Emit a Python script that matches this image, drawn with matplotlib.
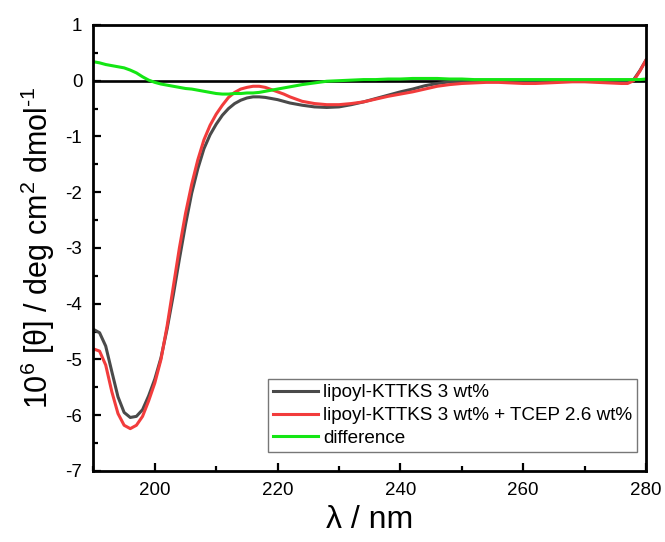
import matplotlib
matplotlib.use("Agg")
import matplotlib.pyplot as plt
from matplotlib.ticker import MultipleLocator

plt.rcParams['font.family'] = ['Liberation Sans', 'DejaVu Sans']
plt.rcParams['mathtext.fontset'] = 'custom'
plt.rcParams['mathtext.rm'] = 'Liberation Sans'
plt.rcParams['mathtext.it'] = 'Liberation Sans:italic'
plt.rcParams['mathtext.bf'] = 'Liberation Sans:bold'
plt.rcParams['axes.unicode_minus'] = False

wavelength = [190, 191, 192, 193, 194, 195, 196, 197, 198, 199,
              200, 201, 202, 203, 204, 205, 206, 207, 208, 209,
              210, 211, 212, 213, 214, 215, 216, 217, 218, 219,
              220, 221, 222, 223, 224, 226, 228, 230, 232, 234,
              236, 238, 240, 242, 244, 246, 248, 250, 252, 254,
              256, 258, 260, 262, 264, 266, 268, 270, 272, 274,
              276, 277, 278, 279, 280]

lipoyl = [-4.46, -4.52, -4.76, -5.22, -5.67, -5.95, -6.04, -6.02, -5.90, -5.65,
          -5.35, -4.97, -4.45, -3.85, -3.20, -2.58, -2.02, -1.58, -1.22, -0.97,
          -0.78, -0.62, -0.50, -0.41, -0.35, -0.31, -0.29, -0.29, -0.30, -0.32,
          -0.34, -0.37, -0.40, -0.42, -0.44, -0.47, -0.48, -0.47, -0.43, -0.38,
          -0.32, -0.26, -0.20, -0.15, -0.09, -0.05, -0.02, -0.01, 0.00, 0.00,
          0.00, 0.00, -0.01, -0.01, 0.00, 0.00, 0.00, 0.00, 0.00, -0.01,
          0.00, -0.01, 0.02, 0.18, 0.37]

lipoyl_tcep = [-4.81, -4.85, -5.10, -5.58, -5.97, -6.18, -6.24, -6.18, -6.02, -5.74,
               -5.42, -5.00, -4.40, -3.70, -3.00, -2.38, -1.86, -1.42, -1.06, -0.80,
               -0.60, -0.44, -0.30, -0.21, -0.15, -0.12, -0.10, -0.10, -0.12, -0.16,
               -0.20, -0.24, -0.29, -0.33, -0.37, -0.41, -0.43, -0.43, -0.41, -0.38,
               -0.33, -0.28, -0.24, -0.20, -0.15, -0.10, -0.07, -0.05, -0.04, -0.03,
               -0.03, -0.04, -0.05, -0.05, -0.04, -0.03, -0.02, -0.02, -0.03, -0.04,
               -0.05, -0.05, 0.00, 0.17, 0.37]

difference = [0.34, 0.32, 0.29, 0.27, 0.25, 0.23, 0.19, 0.14, 0.07, 0.01,
              -0.03, -0.06, -0.08, -0.10, -0.12, -0.14, -0.15, -0.17, -0.19, -0.21,
              -0.23, -0.24, -0.24, -0.23, -0.23, -0.22, -0.22, -0.21, -0.19, -0.17,
              -0.15, -0.13, -0.11, -0.09, -0.07, -0.04, -0.01, 0.00, 0.01, 0.02,
              0.02, 0.03, 0.03, 0.04, 0.04, 0.04, 0.03, 0.03, 0.02, 0.02,
              0.02, 0.02, 0.02, 0.02, 0.02, 0.02, 0.02, 0.02, 0.02, 0.02,
              0.02, 0.02, 0.02, 0.02, 0.03]

labels = ["lipoyl-KTTKS 3 wt%", "lipoyl-KTTKS 3 wt% + TCEP 2.6 wt%", "difference"]
colors = ["#4a4a4a", "#f23c3c", "#14e614"]

fig = plt.figure(figsize=(6.65, 5.42), dpi=100)
ax = fig.add_axes([0.1405, 0.131, 0.8309, 0.823])

ax.axhline(0, color="black", lw=1.9, zorder=1)
for vals, lab, col in zip([lipoyl, lipoyl_tcep, difference], labels, colors):
    ax.plot(wavelength, vals, color=col, lw=2.2, label=lab, zorder=2,
            solid_joinstyle="round")

ax.set_xlim(190, 280)
ax.set_ylim(-7, 1)
ax.xaxis.set_major_locator(MultipleLocator(20))
ax.xaxis.set_minor_locator(MultipleLocator(10))
ax.yaxis.set_major_locator(MultipleLocator(1))
ax.yaxis.set_minor_locator(MultipleLocator(0.5))
ax.tick_params(which="both", direction="in", top=False, right=False, width=1.6, labelsize=13.5)
ax.tick_params(which="major", length=6, pad=8)
ax.tick_params(which="minor", length=3.5)
for s in ax.spines.values():
    s.set_linewidth(2.0)

ax.set_xlabel("λ / nm", fontsize=23, labelpad=4)
ax.set_ylabel(r"10$^{6}$ [θ] / deg cm$^{2}$ dmol$^{\text{-}1}$", fontsize=22, labelpad=6)

leg = ax.legend(loc="lower right", bbox_to_anchor=(0.984, 0.043), borderaxespad=0,
                fontsize=13.6, frameon=True, fancybox=False, edgecolor="#555555",
                handlelength=2.4, handletextpad=0.27, borderpad=0.25, labelspacing=0.3)
leg.get_frame().set_linewidth(1.0)

fig.savefig("out.png", dpi=100)
